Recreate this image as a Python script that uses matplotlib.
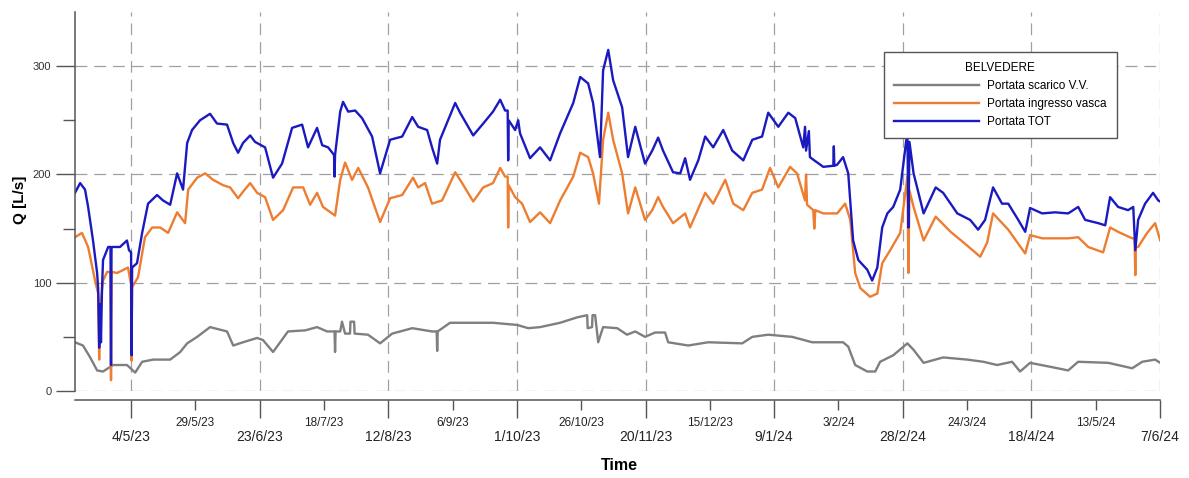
import matplotlib
matplotlib.use('Agg')
import matplotlib.pyplot as plt
import numpy as np
import pandas as pd

plt.rcParams['font.family'] = ['Liberation Sans', 'DejaVu Sans']

# days counted from 4/5/23
t0 = pd.Timestamp('2023-05-04')

# Portata TOT (blue)
tot_days = [-21.8, -19.8, -17.9, -16.7, -14.8, -13.2, -12.8, -12.4, -12.1, -11.7,
            -11.3, -10.9, -8.9, -8.0, -7.8, -7.6, -4.3, -1.6, -0.8, 0.0,
            0.2, 0.4, 2.3, 4.3, 6.6, 10.1, 12.4, 15.2, 17.9, 20.2,
            21.8, 23.7, 26.8, 30.7, 33.4, 37.3, 39.7, 41.6, 43.5, 46.3,
            48.2, 52.1, 55.2, 58.7, 62.6, 66.5, 68.8, 72.3, 74.3, 76.6,
            78.9, 79.1, 79.3, 81.3, 82.4, 84.4, 87.1, 89.8, 93.7, 96.8,
            100.7, 105.4, 109.3, 111.6, 115.1, 117.0, 119.0, 120.1, 126.0, 127.9,
            133.0, 136.9, 140.7, 143.5, 145.4, 146.4, 146.6, 146.8, 149.3, 150.5,
            151.2, 155.1, 159.0, 162.9, 166.8, 171.9, 174.6, 177.7, 179.6, 182.3,
            183.5, 185.5, 187.4, 190.9, 193.2, 196.0, 199.8, 202.6, 204.9, 206.8,
            210.7, 213.5, 215.4, 217.3, 220.5, 223.2, 226.3, 230.2, 233.7, 238.0,
            241.5, 245.3, 247.7, 251.6, 255.5, 258.2, 261.3, 262.0, 262.4, 263.5,
            263.9, 265.0, 269.1, 273.0, 273.2, 273.4, 274.5, 276.8, 278.8, 280.7,
            282.7, 286.2, 288.1, 290.1, 292.0, 294.0, 296.3, 299.0, 301.8, 302.2,
            302.6, 304.2, 308.1, 312.8, 315.7, 321.2, 326.2, 329.3, 332.0, 335.1,
            338.6, 341.0, 344.9, 347.6, 349.5, 354.2, 359.2, 364.3, 368.2, 370.9,
            376.0, 378.7, 380.6, 383.7, 387.6, 389.6, 390.4, 391.5, 394.2, 397.3,
            399.3, 400.1]
tot_vals = [183, 192, 186, 170, 139, 109, 95, 40, 80, 45,
            95, 121, 133, 133, 24, 133, 133, 139, 130, 128,
            33, 114, 118, 146, 173, 181, 176, 172, 201, 186,
            229, 241, 250, 256, 247, 246, 229, 220, 229, 236,
            230, 225, 197, 210, 243, 246, 225, 243, 227, 225,
            218, 198, 218, 258, 267, 258, 259, 252, 235, 201,
            232, 235, 253, 244, 241, 225, 210, 232, 266, 257,
            236, 247, 258, 269, 259, 259, 213, 250, 241, 250,
            238, 215, 225, 213, 238, 266, 290, 284, 266, 216,
            296, 315, 287, 262, 216, 244, 210, 222, 234, 222,
            202, 201, 215, 195, 213, 235, 225, 241, 222, 213,
            232, 235, 257, 244, 257, 252, 225, 244, 222, 240,
            216, 214, 207, 208, 226, 208, 209, 216, 201, 139,
            121, 112, 102, 114, 151, 164, 170, 186, 240, 151,
            230, 201, 164, 188, 183, 164, 158, 149, 158, 188,
            173, 173, 158, 147, 169, 164, 165, 164, 170, 158,
            155, 153, 179, 170, 167, 170, 130, 158, 173, 183,
            176, 175]

# Portata ingresso vasca (orange)
ing_days = [-21.8, -19.1, -16.7, -14.0, -12.8, -12.4, -12.1, -10.9, -9.3, -8.0,
            -7.8, -7.6, -5.4, -1.2, 0.0, 0.2, 0.4, 2.7, 5.4, 8.2,
            11.3, 14.4, 17.9, 21.0, 22.2, 25.7, 28.8, 31.9, 35.8, 38.5,
            41.6, 43.5, 46.3, 49.0, 52.1, 55.2, 59.1, 63.0, 66.9, 69.6,
            72.3, 74.6, 79.3, 81.3, 83.2, 85.9, 88.3, 92.1, 96.8, 100.7,
            105.4, 109.6, 111.6, 114.3, 117.0, 120.9, 126.0, 128.7, 133.0, 136.9,
            140.7, 143.5, 145.4, 146.4, 146.6, 146.8, 149.3, 152.0, 155.1, 159.0,
            162.9, 166.8, 171.9, 174.6, 177.7, 179.6, 181.9, 183.5, 185.5, 187.4,
            190.9, 193.2, 196.0, 199.8, 202.6, 204.9, 206.8, 210.7, 215.4, 217.3,
            223.2, 226.3, 231.0, 234.1, 238.0, 241.5, 245.3, 248.4, 251.6, 256.2,
            258.9, 262.0, 262.4, 262.8, 265.2, 265.6, 266.0, 269.1, 274.5, 277.6,
            279.6, 281.5, 283.5, 287.3, 290.1, 292.0, 295.1, 299.0, 301.8, 302.2,
            302.6, 304.2, 308.1, 312.8, 318.6, 323.7, 330.1, 332.8, 335.1, 341.0,
            347.6, 349.5, 354.2, 359.2, 364.3, 368.2, 372.1, 377.9, 380.6, 383.7,
            389.2, 390.1, 390.4, 390.6, 391.5, 395.0, 398.1, 400.1]
ing_vals = [142, 146, 133, 102, 90, 29, 75, 102, 110, 110,
            10, 110, 109, 114, 98, 28, 96, 105, 142, 151,
            151, 146, 165, 155, 186, 197, 201, 195, 190, 188,
            178, 184, 192, 183, 179, 158, 167, 188, 188, 172,
            183, 170, 162, 195, 211, 195, 206, 188, 156, 178,
            181, 197, 188, 192, 173, 176, 202, 192, 175, 188,
            192, 206, 198, 198, 151, 190, 179, 173, 156, 165,
            155, 176, 198, 220, 216, 201, 173, 232, 257, 232,
            201, 164, 188, 158, 167, 179, 170, 155, 164, 151,
            183, 173, 195, 173, 167, 183, 186, 206, 188, 207,
            201, 176, 200, 172, 167, 150, 167, 164, 164, 173,
            158, 109, 95, 87, 90, 118, 130, 146, 198, 109,
            185, 170, 139, 161, 147, 137, 124, 137, 164, 149,
            127, 144, 141, 141, 141, 142, 133, 128, 151, 147,
            141, 141, 107, 133, 133, 146, 155, 139]

# Portata scarico V.V. (gray)
sca_days = [-21.8, -18.7, -15.9, -13.2, -10.9, -7.0, -1.6, 1.6, 4.3, 8.6,
            15.2, 19.1, 21.8, 25.7, 30.7, 37.3, 39.7, 43.5, 49.0, 51.3,
            55.2, 61.0, 67.7, 72.3, 76.2, 79.1, 79.3, 79.5, 81.3, 82.0,
            83.2, 85.1, 85.3, 86.7, 86.9, 92.1, 96.8, 101.5, 109.3, 117.0,
            118.8, 119.0, 119.2, 124.0, 133.0, 140.7, 150.1, 154.4, 159.0, 166.8,
            173.4, 177.3, 177.5, 179.2, 179.4, 180.4, 181.6, 183.5, 189.0, 192.8,
            196.0, 199.8, 203.7, 207.6, 208.8, 216.6, 224.3, 237.6, 241.5, 247.7,
            257.0, 264.8, 270.6, 276.8, 278.8, 281.5, 286.2, 289.3, 291.2, 296.3,
            301.8, 304.2, 308.1, 315.7, 325.0, 331.3, 336.7, 342.5, 345.6, 349.5,
            358.1, 364.3, 368.2, 379.9, 389.2, 393.1, 398.1, 400.1]
sca_vals = [45, 42, 31, 19, 18, 24, 24, 17, 27, 29,
            29, 36, 44, 50, 59, 55, 42, 45, 49, 47,
            36, 55, 56, 59, 55, 55, 36, 55, 55, 64,
            53, 53, 64, 64, 53, 52, 44, 53, 58, 55,
            55, 37, 55, 63, 63, 63, 61, 58, 59, 63,
            68, 70, 58, 59, 70, 70, 45, 59, 58, 52,
            55, 50, 54, 54, 45, 42, 45, 44, 50, 52,
            50, 45, 45, 45, 41, 24, 18, 18, 27, 33,
            44, 38, 26, 31, 29, 27, 24, 27, 18, 26,
            22, 19, 27, 26, 21, 27, 29, 26]

major_labels = ['4/5/23', '23/6/23', '12/8/23', '1/10/23', '20/11/23',
                '9/1/24', '28/2/24', '18/4/24', '7/6/24']
minor_labels = ['29/5/23', '18/7/23', '6/9/23', '26/10/23', '15/12/23',
                '3/2/24', '24/3/24', '13/5/24']


def to_dates(days):
    return t0 + pd.to_timedelta(np.array(days), unit='D')


fig = plt.figure(figsize=(11.89, 4.78), dpi=100)
ax = fig.add_axes([75/1189, 1 - 391/478, 1085/1189, 379/478])

ax.plot(to_dates(sca_days), sca_vals, color='#7f7f7f', lw=1.7, label='Portata scarico V.V.')
ax.plot(to_dates(ing_days), ing_vals, color='#ed7d31', lw=1.7, label='Portata ingresso vasca')
ax.plot(to_dates(tot_days), tot_vals, color='#1a1ac0', lw=1.7, label='Portata TOT')

ax.set_ylim(0, 350)
ax.set_xlim(t0 - pd.Timedelta(days=21.8), pd.Timestamp('2024-06-07'))

ax.set_xticks(pd.to_datetime(major_labels, format='%d/%m/%y'))
ax.set_xticklabels(major_labels)
ax.set_xticks(pd.to_datetime(minor_labels, format='%d/%m/%y'), minor=True)
ax.set_xticklabels(minor_labels, minor=True)
ax.set_yticks([0, 100, 200, 300])
ax.set_yticks([50, 150, 250], minor=True)

ax.tick_params(axis='x', which='major', length=13, width=1, pad=8.5,
               labelsize=10, colors='#555', labelcolor='#222')
ax.tick_params(axis='x', which='minor', length=7, width=1, pad=5.5,
               labelsize=8.5, colors='#555', labelcolor='#222')
ax.tick_params(axis='y', which='major', length=14, width=1, pad=3,
               labelsize=8, colors='#555', labelcolor='#333')
ax.tick_params(axis='y', which='minor', length=9, width=1, colors='#555')

for s in ['top', 'right']:
    ax.spines[s].set_visible(False)
ax.spines['bottom'].set_position(('outward', 6.5))
for s in ['left', 'bottom']:
    ax.spines[s].set_color('#555')
    ax.spines[s].set_linewidth(1.1)

ax.grid(True, which='major', color='#a0a0a0', lw=0.9, ls=(0, (9.5, 5.5)))

leg = ax.legend(title='BELVEDERE', loc='upper right', bbox_to_anchor=(0.96, 0.894),
                borderaxespad=0, fontsize=8.5, title_fontsize=8.5, handlelength=7.2,
                handletextpad=0.7, fancybox=False, framealpha=1, edgecolor='#555',
                borderpad=0.85, labelspacing=0.5)
leg.get_frame().set_linewidth(1.0)

fig.text(20/1189, 1 - 200/478, 'Q [L/s]', rotation=90, ha='center', va='center',
         fontsize=11, fontweight='bold')
fig.text(619/1189, 1 - 466/478, 'Time', ha='center', va='center',
         fontsize=11.5, fontweight='bold')

fig.savefig('out.png', dpi=100)
